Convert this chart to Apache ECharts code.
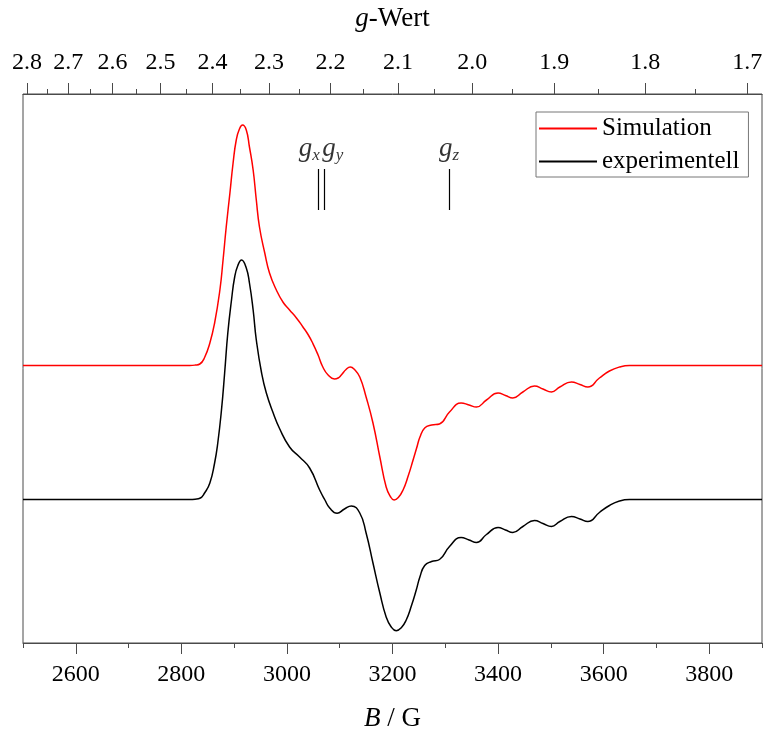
<!DOCTYPE html>
<html><head><meta charset="utf-8">
<script src="https://cdn.jsdelivr.net/npm/echarts@6/dist/echarts.min.js"></script>
<style>html,body{margin:0;padding:0;background:#fff}#c{width:767px;height:731px}</style>
</head><body><div id="c"></div>
<script>
// Magnetic field (G) and signal (arb. units, relative to each trace's baseline)
const simField = [2500, 2816, 2826, 2835, 2844, 2854, 2863, 2873, 2879, 2885, 2892, 2898, 2904, 2910, 2916, 2923, 2929, 2936, 2942, 2948, 2958, 2967, 2980, 2993, 3005, 3018, 3030, 3040, 3049, 3059, 3068, 3078, 3090, 3097, 3103, 3112, 3120, 3128, 3138, 3150, 3163, 3176, 3188, 3196, 3203, 3211, 3220, 3230, 3239, 3246, 3252, 3261, 3274, 3289, 3308, 3330, 3345, 3359, 3378, 3400, 3414, 3428, 3447, 3469, 3485, 3501, 3517, 3539, 3555, 3570, 3592, 3611, 3630, 3649, 3900];
const simSignal = [0, 0, 0.4, 1.5, 8, 22.5, 42.5, 75.5, 105.5, 138.5, 172.5, 202.5, 225.5, 236.5, 240.5, 235.5, 218.5, 195.5, 165.5, 138.5, 112.5, 92.5, 75.5, 63, 55.5, 47.5, 38.8, 31, 22.2, 10.5, -1.5, -9.5, -13.5, -12.5, -9.5, -4, -1.5, -4, -11.5, -31.5, -57.5, -91.5, -121.5, -131, -134.5, -132, -124.5, -110, -94.5, -82, -71.5, -62.5, -59.5, -58.5, -46.5, -37.5, -39.5, -41.5, -34.5, -27.5, -30, -32.5, -26.5, -20.5, -23.5, -26.5, -21.5, -16.5, -19, -21.5, -12.5, -5.5, -1.5, 0, 0];
const expField = [2500, 2816, 2826, 2835, 2844, 2854, 2863, 2869, 2876, 2882, 2888, 2895, 2901, 2907, 2914, 2923, 2929, 2936, 2942, 2952, 2961, 2974, 2986, 3005, 3024, 3043, 3062, 3072, 3081, 3095, 3109, 3122, 3138, 3150, 3163, 3176, 3188, 3197, 3207, 3217, 3226, 3236, 3245, 3252, 3261, 3274, 3289, 3308, 3330, 3345, 3359, 3378, 3400, 3414, 3428, 3447, 3469, 3485, 3501, 3517, 3539, 3555, 3570, 3592, 3611, 3630, 3649, 3900];
const expSignal = [0, 0, 0.3, 1.2, 6.5, 16.5, 36.5, 56.5, 89.5, 126.5, 166.5, 199.5, 222.5, 234, 239.5, 231.5, 216.5, 189.5, 159.5, 126.5, 106.5, 86.5, 71, 52.5, 42.5, 31.5, 9.5, -0.5, -8.5, -13.8, -9.5, -6.5, -13.5, -33.5, -63.5, -93.5, -117.5, -127, -131.2, -128, -120.5, -106, -90.5, -77.2, -66, -62, -60, -47, -38, -40.5, -43, -35, -28, -30.5, -33, -27, -21, -24, -27, -22, -17, -19.5, -22, -13, -6, -1.5, 0, 0];
const simOffset = 277.5;
const expOffset = 143.5;

const fieldMajorTicks = [2600, 2800, 3000, 3200, 3400, 3600, 3800];
const fieldMinorTicks = [2500, 2700, 2900, 3100, 3300, 3500, 3700, 3900];
const gMajorTicks = [2.8, 2.7, 2.6, 2.5, 2.4, 2.3, 2.2, 2.1, 2.0, 1.9, 1.8, 1.7];
const gMinorTicks = [2.75, 2.65, 2.55, 2.45, 2.35, 2.25, 2.15, 2.05, 1.95, 1.85, 1.75];
const gMarkerLabels = ['x', 'y', 'z'];
const gMarkerValues = [2.22, 2.21, 2.03];

// calibration of the g scale against the field scale as drawn in the figure
const G_CONST = 5904, G_OFFSET = 399;
const gToField = g => G_CONST / g + G_OFFSET;
const fieldToG = b => G_CONST / (b - G_OFFSET);

const FONT = 'Liberation Serif';
const AXC = '#4a4a4a';
const markerSpan = [433, 474];
const markerAlign = ['right', 'left', 'center'];
const markerShift = [2, -2, 0];

const chart = echarts.init(document.getElementById('c'), null, {renderer: 'canvas'});

const baseAxis = {
  type: 'value', min: 2500, max: 3900, gridIndex: 0,
  splitLine: {show: false},
  axisLine: {show: true, onZero: false, lineStyle: {color: AXC, width: 1}},
};

const option = {
  backgroundColor: '#fff',
  animation: false,
  grid: {left: 23, right: 5, top: 94, bottom: 88, show: true, borderColor: AXC, borderWidth: 1,
    containLabel: false, outerBoundsMode: 'none'},
  legend: {
    data: ['Simulation', 'experimentell'],
    orient: 'vertical', left: 536, top: 112,
    icon: 'rect', itemWidth: 58, itemHeight: 2, itemGap: 8,
    padding: [4, 9, 3, 3],
    borderColor: '#777', borderWidth: 1,
    textStyle: {fontFamily: FONT, fontSize: 25, color: '#000', lineHeight: 24}
  },
  xAxis: [
    Object.assign({}, baseAxis, {
      position: 'bottom',
      axisTick: {show: true, length: 11, customValues: fieldMajorTicks, lineStyle: {color: AXC}},
      axisLabel: {show: true, customValues: fieldMajorTicks, margin: 20, fontFamily: FONT, fontSize: 24, color: '#000',
        formatter: v => String(v)},
      name: '{i|B} / G', nameLocation: 'middle', nameGap: 62,
      nameTextStyle: {fontFamily: FONT, fontSize: 27, color: '#000',
        rich: {i: {fontFamily: FONT, fontSize: 27, fontStyle: 'italic', color: '#000'}}}
    }),
    Object.assign({}, baseAxis, {
      position: 'bottom',
      axisLine: {show: false, onZero: false},
      axisTick: {show: true, length: 5, customValues: fieldMinorTicks, lineStyle: {color: AXC}},
      axisLabel: {show: false}
    }),
    Object.assign({}, baseAxis, {
      position: 'top',
      axisTick: {show: true, length: 11, customValues: gMajorTicks.map(gToField), lineStyle: {color: AXC}},
      axisLabel: {show: true, customValues: gMajorTicks.map(gToField), margin: 19,
        fontFamily: FONT, fontSize: 24, color: '#000',
        formatter: v => fieldToG(v).toFixed(1)},
      name: '{i|g}-Wert', nameLocation: 'middle', nameGap: 62,
      nameTextStyle: {fontFamily: FONT, fontSize: 27, color: '#000',
        rich: {i: {fontFamily: FONT, fontSize: 27, fontStyle: 'italic', color: '#000'}}}
    }),
    Object.assign({}, baseAxis, {
      position: 'top',
      axisLine: {show: false, onZero: false},
      axisTick: {show: true, length: 5, customValues: gMinorTicks.map(gToField), lineStyle: {color: AXC}},
      axisLabel: {show: false}
    })
  ],
  yAxis: {type: 'value', min: 0, max: 549, show: false},
  series: [
    {
      name: 'Simulation', type: 'line', xAxisIndex: 0, symbol: 'none', smooth: 0.5,
      lineStyle: {color: '#ff0000', width: 1.5}, itemStyle: {color: '#ff0000'},
      data: simField.map((b, i) => [b, simSignal[i] + simOffset]), z: 3
    },
    {
      name: 'experimentell', type: 'line', xAxisIndex: 0, symbol: 'none', smooth: 0.5,
      lineStyle: {color: '#000000', width: 1.5}, itemStyle: {color: '#000000'},
      data: expField.map((b, i) => [b, expSignal[i] + expOffset]), z: 3
    },
    {
      type: 'lines', coordinateSystem: 'cartesian2d', xAxisIndex: 0, silent: true,
      lineStyle: {color: '#000', width: 1.2, opacity: 1},
      data: gMarkerValues.map(g => ({coords: [[gToField(g), markerSpan[0]], [gToField(g), markerSpan[1]]]}))
    },
    {
      type: 'scatter', xAxisIndex: 0, symbolSize: 0, silent: true,
      data: gMarkerValues.map((g, i) => ({
        value: [gToField(g), markerSpan[1]],
        label: {
          show: true, position: 'top', distance: 5, align: markerAlign[i], offset: [markerShift[i], 0],
          formatter: '{g|g}{s|' + gMarkerLabels[i] + '}',
          rich: {
            g: {fontFamily: FONT, fontSize: 27, fontStyle: 'italic', color: '#000', lineHeight: 30},
            s: {fontFamily: FONT, fontSize: 17, fontStyle: 'italic', color: '#000', lineHeight: 14, verticalAlign: 'bottom'}
          }
        }
      }))
    }
  ]
};
chart.setOption(option);
</script>
</body></html>
